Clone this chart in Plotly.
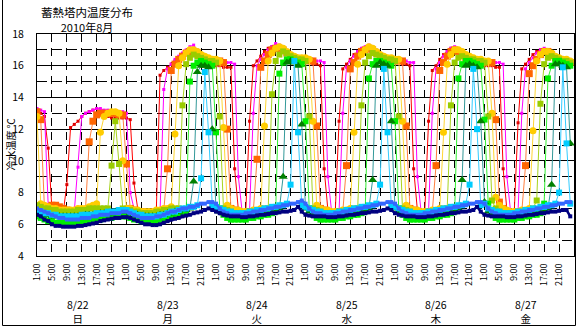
import plotly.graph_objects as go

# ---------------- data (hourly, 8/22 1:00 ... 8/27 24:00) ----------------
red = [
    13.2, 13.0, 12.8, 10.8, 7.0, 6.8, 6.7, 6.7, 8.5, 12.1, 12.3, 12.5, 12.8, 13.0, 13.1, 13.2, 13.3, 13.1, 12.9, 12.8, 12.7, 12.7, 12.7, 12.7,
    12.7, 12.6, 8.6, 7.0, 6.8, 6.7, 6.6, 6.6, 6.9, 15.4, 15.7, 15.9, 16.1, 16.3, 16.5, 16.7, 16.9, 17.0, 17.1, 16.8, 16.4, 16.1, 16.0, 16.0,
    16.0, 16.0, 15.9, 15.9, 15.9, 9.5, 6.9, 6.7, 6.9, 12.5, 16.0, 16.3, 16.6, 16.9, 17.1, 17.2, 17.3, 17.2, 17.0, 16.8, 16.6, 16.4, 16.3, 16.3,
    16.2, 16.2, 16.1, 16.1, 16.0, 9.5, 6.9, 6.7, 6.9, 12.5, 15.8, 16.1, 16.4, 16.7, 16.9, 17.0, 17.1, 17.2, 17.0, 16.8, 16.6, 16.4, 16.3, 16.3,
    16.2, 16.2, 16.1, 16.1, 16.0, 9.5, 6.9, 6.7, 6.9, 12.5, 15.7, 16.0, 16.4, 16.7, 16.9, 17.1, 17.0, 16.9, 16.7, 16.5, 16.3, 16.2, 16.1, 16.1,
    16.0, 16.0, 16.0, 15.9, 15.9, 9.5, 6.9, 6.7, 6.9, 12.4, 15.8, 16.1, 16.4, 16.7, 16.9, 17.0, 17.0, 16.9, 16.7, 16.5, 16.3, 16.2, 16.1, 16.1,
]
magenta = [
    13.3, 13.2, 13.1, 7.2, 6.9, 6.8, 6.7, 6.7, 6.7, 6.7, 6.8, 9.6, 12.8, 13.0, 13.1, 13.2, 13.3, 13.3, 13.2, 13.2, 13.1, 13.1, 13.1, 13.1,
    13.0, 8.0, 7.0, 6.8, 6.7, 6.7, 6.6, 6.6, 6.6, 6.8, 14.5, 15.8, 16.1, 16.4, 16.6, 16.8, 17.0, 17.2, 17.3, 17.0, 16.7, 16.5, 16.4, 16.3,
    16.3, 16.3, 16.3, 16.2, 16.2, 16.1, 9.0, 6.8, 6.6, 6.8, 13.0, 16.0, 16.4, 16.7, 17.0, 17.2, 17.4, 17.3, 17.1, 16.9, 16.7, 16.6, 16.5, 16.5,
    16.4, 16.4, 16.4, 16.3, 16.3, 16.2, 9.0, 6.8, 6.6, 6.8, 13.0, 15.9, 16.3, 16.6, 16.9, 17.1, 17.2, 17.3, 17.2, 17.0, 16.7, 16.6, 16.5, 16.4,
    16.4, 16.4, 16.3, 16.3, 16.2, 16.2, 9.0, 6.8, 6.6, 6.8, 13.0, 15.8, 16.2, 16.6, 16.9, 17.1, 17.2, 17.0, 16.8, 16.6, 16.5, 16.4, 16.3, 16.3,
    16.3, 16.3, 16.2, 16.2, 16.2, 16.1, 9.0, 6.8, 6.6, 6.8, 13.0, 15.8, 16.2, 16.5, 16.8, 17.0, 17.1, 17.0, 16.8, 16.6, 16.4, 16.3, 16.3, 16.2,
]
orange = [
    13.1, 12.6, 7.0, 7.1, 7.2, 7.2, 7.1, 7.0, 6.9, 6.8, 6.8, 6.8, 6.8, 6.9, 11.2, 12.5, 12.9, 13.0, 13.0, 13.0, 13.0, 13.0, 12.9, 12.9,
    9.8, 7.0, 6.9, 6.8, 6.8, 6.7, 6.7, 6.7, 6.7, 6.8, 6.9, 9.5, 15.7, 16.1, 16.4, 16.6, 16.8, 16.9, 16.9, 16.8, 16.6, 16.4, 16.3, 16.3,
    16.3, 16.3, 16.2, 12.0, 7.0, 6.9, 6.8, 6.7, 6.7, 6.7, 6.8, 10.1, 15.9, 16.3, 16.7, 17.0, 17.1, 17.1, 17.0, 16.8, 16.6, 16.5, 16.4, 16.4,
    16.4, 16.3, 16.3, 12.2, 7.0, 6.9, 6.8, 6.7, 6.7, 6.7, 6.8, 9.7, 15.8, 16.2, 16.6, 16.9, 17.0, 17.1, 17.0, 16.8, 16.6, 16.5, 16.4, 16.4,
    16.3, 16.3, 16.3, 12.2, 7.0, 6.9, 6.8, 6.7, 6.7, 6.7, 6.8, 9.7, 15.7, 16.2, 16.6, 16.9, 17.0, 16.9, 16.7, 16.5, 16.4, 16.3, 16.3, 16.2,
    16.2, 16.2, 16.2, 12.6, 7.4, 7.0, 6.8, 6.7, 6.7, 6.7, 6.8, 9.7, 15.5, 16.0, 16.4, 16.7, 16.9, 16.9, 16.7, 16.5, 16.4, 16.3, 16.2, 16.2,
]
gold = [
    12.8, 7.3, 7.2, 7.1, 7.0, 7.0, 6.9, 6.9, 6.9, 6.9, 6.9, 7.0, 7.0, 7.0, 7.1, 7.2, 7.3, 11.8, 12.8, 13.0, 13.1, 13.1, 13.0, 10.0,
    7.0, 7.0, 6.9, 6.9, 6.8, 6.8, 6.8, 6.8, 6.9, 6.9, 7.0, 7.0, 7.1, 11.7, 16.0, 16.5, 16.8, 17.0, 17.0, 16.9, 16.7, 16.6, 16.5, 16.4,
    16.4, 16.3, 12.1, 7.2, 7.0, 6.9, 6.9, 6.8, 6.8, 6.8, 6.9, 6.9, 7.0, 12.2, 16.3, 16.8, 17.1, 17.2, 17.1, 16.9, 16.7, 16.6, 16.5, 16.5,
    16.5, 16.4, 12.5, 7.2, 7.0, 6.9, 6.9, 6.8, 6.8, 6.8, 6.9, 6.9, 7.0, 11.8, 16.1, 16.7, 17.0, 17.2, 17.1, 16.9, 16.7, 16.6, 16.5, 16.5,
    16.4, 16.4, 12.5, 7.2, 7.0, 6.9, 6.9, 6.8, 6.8, 6.8, 6.9, 6.9, 7.0, 11.8, 16.1, 16.7, 17.0, 17.0, 16.9, 16.7, 16.6, 16.5, 16.4, 16.4,
    16.3, 16.3, 13.0, 7.7, 7.2, 7.0, 6.9, 6.8, 6.8, 6.8, 6.9, 6.9, 7.0, 11.9, 16.3, 16.7, 16.9, 16.9, 16.8, 16.6, 16.5, 16.4, 16.4, 16.3,
]
yellowgreen = [
    7.2, 7.1, 7.0, 7.0, 6.9, 6.9, 6.8, 6.8, 6.8, 6.8, 6.8, 6.9, 6.9, 6.9, 7.0, 7.0, 7.0, 7.0, 7.0, 7.0, 9.7, 12.5, 9.8, 7.0,
    6.9, 6.9, 6.8, 6.8, 6.7, 6.7, 6.7, 6.7, 6.8, 6.8, 6.9, 6.9, 7.0, 7.0, 7.0, 13.5, 16.1, 16.5, 16.7, 16.6, 16.5, 16.4, 16.3, 16.3,
    16.2, 12.8, 7.0, 6.9, 6.8, 6.7, 6.7, 6.7, 6.7, 6.8, 6.8, 6.9, 6.9, 7.0, 7.0, 14.2, 16.3, 16.7, 16.9, 16.8, 16.6, 16.5, 16.4, 16.4,
    16.3, 12.8, 7.0, 6.9, 6.8, 6.7, 6.7, 6.7, 6.7, 6.8, 6.8, 6.9, 6.9, 7.0, 7.0, 13.5, 16.2, 16.6, 16.8, 16.7, 16.6, 16.5, 16.4, 16.4,
    16.3, 12.8, 7.0, 6.9, 6.8, 6.7, 6.7, 6.7, 6.7, 6.8, 6.8, 6.9, 6.9, 7.0, 7.0, 13.5, 16.2, 16.5, 16.6, 16.5, 16.4, 16.4, 16.3, 16.3,
    16.2, 12.8, 7.5, 7.0, 6.8, 6.7, 6.7, 6.7, 6.7, 6.8, 6.8, 6.9, 6.9, 7.0, 7.5, 13.6, 16.1, 16.5, 16.6, 16.5, 16.4, 16.3, 16.3, 16.2,
]
green = [
    6.5, 6.4, 6.3, 6.2, 6.2, 6.1, 6.1, 6.1, 6.1, 6.1, 6.1, 6.1, 6.2, 6.2, 6.2, 6.3, 6.3, 6.3, 6.4, 6.4, 6.4, 6.5, 6.5, 6.5,
    6.5, 6.4, 6.3, 6.3, 6.2, 6.2, 6.2, 6.2, 6.2, 6.3, 6.3, 6.4, 6.5, 6.5, 6.6, 6.7, 6.8, 15.0, 16.0, 16.2, 16.3, 16.2, 16.1, 16.0,
    11.8, 7.0, 6.6, 6.4, 6.3, 6.3, 6.3, 6.3, 6.3, 6.4, 6.4, 6.5, 6.5, 6.6, 6.6, 6.7, 6.8, 15.5, 16.2, 16.4, 16.4, 16.3, 16.2, 16.1,
    12.5, 7.0, 6.6, 6.4, 6.3, 6.3, 6.3, 6.3, 6.3, 6.4, 6.4, 6.5, 6.5, 6.6, 6.6, 6.7, 6.8, 15.2, 16.1, 16.3, 16.3, 16.2, 16.1, 16.0,
    12.5, 7.0, 6.6, 6.4, 6.3, 6.3, 6.3, 6.3, 6.3, 6.4, 6.4, 6.5, 6.5, 6.6, 6.6, 6.7, 6.8, 15.2, 16.1, 16.3, 16.3, 16.2, 16.1, 16.0,
    12.6, 7.3, 6.6, 6.4, 6.3, 6.3, 6.3, 6.3, 6.3, 6.4, 6.4, 6.5, 6.5, 6.6, 6.6, 6.7, 7.3, 15.2, 16.0, 16.3, 16.3, 16.2, 16.1, 16.0,
]
teal = [
    6.7, 6.7, 6.6, 6.6, 6.5, 6.5, 6.5, 6.5, 6.5, 6.5, 6.5, 6.5, 6.5, 6.6, 6.6, 6.6, 6.6, 6.7, 6.7, 6.7, 6.7, 6.8, 6.8, 6.8,
    6.8, 6.7, 6.6, 6.6, 6.5, 6.5, 6.5, 6.5, 6.5, 6.6, 6.6, 6.7, 6.7, 6.8, 6.8, 6.9, 6.9, 7.0, 8.7, 15.6, 16.0, 16.0, 15.9, 12.0,
    7.0, 6.8, 6.7, 6.6, 6.6, 6.6, 6.6, 6.6, 6.6, 6.7, 6.7, 6.7, 6.8, 6.8, 6.8, 6.9, 6.9, 7.0, 9.0, 16.2, 16.3, 16.2, 16.0, 12.3,
    7.0, 6.8, 6.7, 6.6, 6.6, 6.6, 6.6, 6.6, 6.6, 6.7, 6.7, 6.7, 6.8, 6.8, 6.8, 6.9, 6.9, 7.0, 8.8, 16.0, 16.2, 16.1, 16.0, 12.5,
    7.0, 6.8, 6.7, 6.6, 6.6, 6.6, 6.6, 6.6, 6.6, 6.7, 6.7, 6.7, 6.8, 6.8, 6.8, 6.9, 6.9, 7.0, 8.8, 16.0, 16.1, 16.0, 15.9, 12.5,
    7.4, 6.8, 6.7, 6.6, 6.6, 6.6, 6.6, 6.6, 6.6, 6.7, 6.7, 6.7, 6.8, 6.8, 6.8, 6.9, 6.9, 7.0, 8.5, 16.1, 16.1, 16.0, 15.9, 11.1,
]
cyan = [
    6.8, 6.8, 6.7, 6.7, 6.6, 6.6, 6.5, 6.5, 6.5, 6.5, 6.5, 6.5, 6.6, 6.6, 6.6, 6.6, 6.7, 6.7, 6.7, 6.8, 6.8, 6.8, 6.9, 6.9,
    6.9, 6.8, 6.7, 6.6, 6.6, 6.5, 6.5, 6.5, 6.5, 6.6, 6.6, 6.7, 6.8, 6.8, 6.9, 7.0, 7.0, 7.1, 7.1, 7.2, 8.9, 15.6, 11.8, 7.2,
    7.1, 7.0, 6.9, 6.8, 6.8, 6.7, 6.7, 6.7, 6.7, 6.8, 6.8, 6.9, 6.9, 7.0, 7.0, 7.1, 7.1, 7.2, 7.2, 7.3, 8.5, 16.3, 11.8, 7.2,
    7.1, 7.0, 6.9, 6.8, 6.8, 6.7, 6.7, 6.7, 6.7, 6.8, 6.8, 6.9, 6.9, 7.0, 7.0, 7.1, 7.1, 7.2, 7.2, 7.3, 8.5, 15.8, 11.8, 7.2,
    7.1, 7.0, 6.9, 6.8, 6.8, 6.7, 6.7, 6.7, 6.7, 6.8, 6.8, 6.9, 6.9, 7.0, 7.0, 7.1, 7.1, 7.2, 7.2, 7.3, 8.5, 15.8, 12.0, 7.2,
    7.3, 7.0, 6.9, 6.8, 6.8, 6.7, 6.7, 6.7, 6.7, 6.8, 6.8, 6.9, 6.9, 7.0, 7.0, 7.1, 7.1, 7.2, 7.2, 7.3, 8.0, 15.9, 11.1, 7.3,
]
blue = [
    7.0, 6.9, 6.8, 6.7, 6.6, 6.5, 6.4, 6.4, 6.3, 6.3, 6.3, 6.3, 6.4, 6.4, 6.4, 6.5, 6.5, 6.6, 6.6, 6.6, 6.7, 6.7, 6.7, 6.8,
    6.8, 6.7, 6.6, 6.5, 6.4, 6.4, 6.4, 6.4, 6.5, 6.5, 6.6, 6.7, 6.8, 6.8, 6.9, 7.0, 7.0, 7.1, 7.1, 7.2, 7.3, 7.3, 7.4, 7.4,
    7.3, 7.0, 6.8, 6.7, 6.6, 6.6, 6.6, 6.6, 6.7, 6.7, 6.8, 6.8, 6.9, 6.9, 7.0, 7.0, 7.1, 7.1, 7.2, 7.2, 7.3, 7.3, 7.4, 7.5,
    7.3, 7.0, 6.8, 6.7, 6.7, 6.6, 6.6, 6.6, 6.7, 6.7, 6.8, 6.8, 6.9, 6.9, 7.0, 7.0, 7.1, 7.1, 7.2, 7.2, 7.3, 7.3, 7.4, 7.4,
    7.3, 7.0, 6.8, 6.7, 6.6, 6.6, 6.6, 6.6, 6.7, 6.7, 6.8, 6.8, 6.9, 6.9, 7.0, 7.0, 7.1, 7.1, 7.2, 7.2, 7.3, 7.3, 7.4, 7.4,
    7.3, 7.0, 6.8, 6.7, 6.6, 6.6, 6.6, 6.6, 6.7, 6.7, 6.8, 6.8, 6.9, 6.9, 7.0, 7.0, 7.1, 7.1, 7.2, 7.2, 7.3, 7.3, 7.4, 7.4,
]
navy = [
    6.6, 6.5, 6.3, 6.2, 6.0, 5.9, 5.9, 5.85, 5.85, 5.85, 5.85, 5.9, 5.9, 5.95, 6.0, 6.05, 6.1, 6.2, 6.25, 6.3, 6.35, 6.4, 6.4, 6.45,
    6.45, 6.4, 6.3, 6.2, 6.1, 6.0, 6.0, 5.95, 5.95, 6.0, 6.1, 6.2, 6.3, 6.35, 6.4, 6.5, 6.55, 6.6, 6.7, 6.75, 6.8, 6.9, 7.0, 6.9,
    6.8, 6.7, 6.6, 6.55, 6.5, 6.5, 6.5, 6.45, 6.45, 6.5, 6.5, 6.55, 6.6, 6.6, 6.65, 6.7, 6.7, 6.75, 6.8, 6.8, 6.85, 6.9, 7.1, 6.8,
    6.6, 6.55, 6.5, 6.5, 6.5, 6.5, 6.45, 6.45, 6.45, 6.5, 6.5, 6.55, 6.6, 6.6, 6.65, 6.7, 6.7, 6.75, 6.8, 6.8, 6.85, 6.9, 7.0, 6.9,
    6.7, 6.6, 6.55, 6.5, 6.5, 6.5, 6.45, 6.45, 6.45, 6.5, 6.5, 6.55, 6.6, 6.6, 6.65, 6.7, 6.7, 6.75, 6.8, 6.8, 6.85, 6.9, 7.1, 6.8,
    6.6, 6.55, 6.5, 6.5, 6.5, 6.5, 6.45, 6.45, 6.45, 6.5, 6.5, 6.55, 6.6, 6.6, 6.65, 6.7, 6.7, 6.75, 6.8, 6.8, 6.85, 6.9, 6.9, 6.5,
]

hours = list(range(len(red)))
hour_labels = ["1:00", "5:00", "9:00", "13:00", "17:00", "21:00"]
days = ["8/22", "8/23", "8/24", "8/25", "8/26", "8/27"]
weekdays = ["日", "月", "火", "水", "木", "金"]

FONT = "Noto Sans CJK JP"

series = [
    (red, "#FF0000", 1, "square", 3, "#DD0000"),
    (magenta, "#FF00FF", 1, "square", 3, "#FF00FF"),
    (orange, "#FF8040", 1, "square", 7, "#FF6600"),
    (gold, "#FFD633", 1, "circle", 7, "#FFCC00"),
    (yellowgreen, "#A8D420", 1, "square", 6, "#99CC00"),
    (green, "#33EE33", 1, "square", 6, "#00EE00"),
    (teal, "#339999", 1, "triangle-up", 8, "#008000"),
    (cyan, "#33CCFF", 1, "square", 6, "#00CCFF"),
    (blue, "#3366FF", 2.5, "square", 4, "#3366FF"),
    (navy, "#000080", 2.5, "square", 4, "#000080"),
]

fig = go.Figure()
for vals, lc, lw, sym, ms, mc in series:
    fig.add_trace(go.Scatter(
        x=hours, y=vals, mode="lines+markers",
        line=dict(color=lc, width=lw),
        marker=dict(symbol=sym, size=ms, color=mc, line=dict(width=0)),
        hoverinfo="skip",
    ))

tickvals = list(range(0, 144, 4))
ticktext = [hour_labels[i % 6] for i in range(len(tickvals))]

L, R, T, B = 37, 2, 34, 71
W, H = 576, 327
pw, ph = W - L - R, H - T - B


def px(xp):
    return (xp - L) / pw


def py(yp):
    return (H - B - yp) / ph


annotations = [
    dict(text="蓄熱塔内温度分布<br><span style='font-size:11px'>2010年8月</span>",
         x=px(87), y=py(20), xref="paper", yref="paper",
         xanchor="center", yanchor="middle",
         showarrow=False, font=dict(size=11.5, family=FONT, color="black")),
    dict(text="冷水温度 ℃", x=px(9.5), y=py(145), xref="paper", yref="paper",
         xanchor="center", yanchor="middle",
         textangle=-90, showarrow=False, font=dict(size=10, family=FONT, color="black")),
]
for i, (d, w) in enumerate(zip(days, weekdays)):
    annotations.append(dict(text=d + "<br>" + w, x=24 * i + 11, y=py(311.5), xref="x", yref="paper",
                            xanchor="center", yanchor="middle",
                            showarrow=False, font=dict(size=10.5, family=FONT, color="black")))

shapes = [
    dict(type="rect", xref="paper", yref="paper", x0=px(2.5), x1=px(575.5), y0=py(325.5), y1=py(-1),
         line=dict(color="black", width=1), fillcolor="rgba(0,0,0,0)", layer="above"),
]

fig.update_layout(
    width=W, height=H,
    margin=dict(l=L, r=R, t=T, b=B, pad=0, autoexpand=False),
    plot_bgcolor="white", paper_bgcolor="white",
    showlegend=False,
    font=dict(family=FONT, color="black"),
    annotations=annotations,
    shapes=shapes,
    xaxis=dict(
        range=[0, 144], tickmode="array", tickvals=tickvals, ticktext=ticktext,
        tickangle=-90, tickfont=dict(size=9, family=FONT, color="black"),
        showgrid=True, gridcolor="black", gridwidth=1, griddash="8px,6px",
        showline=True, linecolor="black", linewidth=1, mirror=True,
        zeroline=False, ticks="", ticklabelstandoff=3, fixedrange=True,
        automargin=False,
    ),
    yaxis=dict(
        range=[4, 18], tick0=4, dtick=2,
        tickfont=dict(size=10.5, family=FONT, color="black"),
        showgrid=True, gridcolor="black", gridwidth=1,
        minor=dict(dtick=1, tick0=4, showgrid=True, gridcolor="black", gridwidth=1, griddash="10px,5px"),
        showline=True, linecolor="black", linewidth=1, mirror=True,
        zeroline=False, ticks="", ticklabelstandoff=10, fixedrange=True,
        automargin=False,
    ),
)

fig.write_html(
    "out.html",
    config={"displayModeBar": False},
    post_script="document.body.style.margin='0';document.body.style.overflow='hidden';",
)
